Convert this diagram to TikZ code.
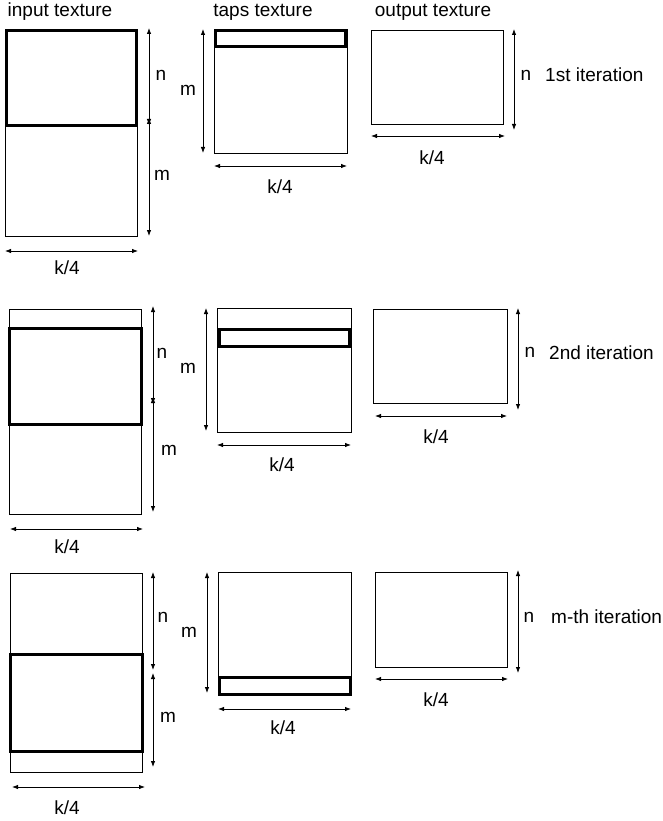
\documentclass[tikz,border=0pt]{standalone}
\usepackage{fontspec}
\setmainfont{Liberation Sans}
\usetikzlibrary{arrows.meta,positioning}

\begin{document}
\begin{tikzpicture}[x=1pt, y=-1pt, >={Latex[length=6pt,width=4.5pt]},
        box/.style={draw, line width=0.8pt},
        window/.style={draw, line width=3pt},
        dim/.style={<->, line width=0.8pt},
        lbl/.style={inner sep=0pt, font=\fontsize{19}{22}\selectfont}]
    \useasboundingbox (0,0) rectangle (663,821);

    % headings
    \node[lbl] (inhead) at (60,12) {input texture};
    \node[lbl] (tapshead) at (263,12) {taps texture};
    \node[lbl] (outhead) at (433,12) {output texture};

    % 1st iteration
    \draw[box] (5,29) rectangle (137,236);
    \draw[window] (6.5,30.5) rectangle (136.5,126);
    \draw[dim] (149,28) -- (149,125);
    \draw[dim] (149,118) -- (149,236);
    \draw[dim] (5,251) -- (138,251);
    \node[lbl] (in1n) at (161,75) {n};
    \node[lbl] (in1m) at (162,175) {m};
    \node[lbl] (in1k) at (67,268) {k/4};

    \draw[box] (214,29) rectangle (347,153);
    \draw[window] (215.5,30.5) rectangle (345.5,47);
    \draw[dim] (203,29) -- (203,153);
    \draw[dim] (214,166) -- (347,166);
    \node[lbl] (taps1m) at (188,90) {m};
    \node[lbl] (taps1k) at (280,187) {k/4};

    \draw[box] (371,30) rectangle (503,124);
    \draw[dim] (514,29) -- (514,130);
    \draw[dim] (371,136) -- (505,136);
    \node[lbl] (out1n) at (526,75) {n};
    \node[lbl] (out1k) at (432,158) {k/4};
    \node[lbl, anchor=west] (iter1) at (545,75) {1st iteration};

    % 2nd iteration
    \draw[box] (9,309) rectangle (141,514);
    \draw[window] (9.5,328.5) rectangle (141.5,424.5);
    \draw[dim] (153,306) -- (153,404);
    \draw[dim] (153,397) -- (153,512);
    \draw[dim] (10,529) -- (143,529);
    \node[lbl] (in2n) at (162,353) {n};
    \node[lbl] (in2m) at (169,450) {m};
    \node[lbl] (in2k) at (67,547) {k/4};

    \draw[box] (217,308) rectangle (351,432);
    \draw[window] (219,329) rectangle (349,346);
    \draw[dim] (206,308) -- (206,431);
    \draw[dim] (217,445) -- (351,445);
    \node[lbl] (taps2m) at (188,368) {m};
    \node[lbl] (taps2k) at (282,465) {k/4};

    \draw[box] (373,309) rectangle (507,403);
    \draw[dim] (518,308) -- (518,410);
    \draw[dim] (375,416) -- (507,416);
    \node[lbl] (out2n) at (530,352) {n};
    \node[lbl] (out2k) at (436,437) {k/4};
    \node[lbl, anchor=west] (iter2) at (549,353) {2nd iteration};

    % m-th iteration
    \draw[box] (10,573) rectangle (142,772);
    \draw[window] (10,654.5) rectangle (142,751);
    \draw[dim] (153,572) -- (153,670);
    \draw[dim] (153,673) -- (153,767);
    \draw[dim] (12,787) -- (145,787);
    \node[lbl] (in3n) at (163,617) {n};
    \node[lbl] (in3m) at (168,717) {m};
    \node[lbl] (in3k) at (67,808) {k/4};

    \draw[box] (218,572) rectangle (351,695);
    \draw[window] (219.5,677) rectangle (350.5,694.5);
    \draw[dim] (207,572) -- (207,693);
    \draw[dim] (218,709) -- (351,709);
    \node[lbl] (taps3m) at (189,632) {m};
    \node[lbl] (taps3k) at (283,728) {k/4};

    \draw[box] (375,572) rectangle (507,667);
    \draw[dim] (518,570) -- (518,673);
    \draw[dim] (375,679) -- (508,679);
    \node[lbl] (out3n) at (529,617) {n};
    \node[lbl] (out3k) at (436,700) {k/4};
    \node[lbl, anchor=west] (iter3) at (551,617) {m-th iteration};
\end{tikzpicture}
\end{document}
